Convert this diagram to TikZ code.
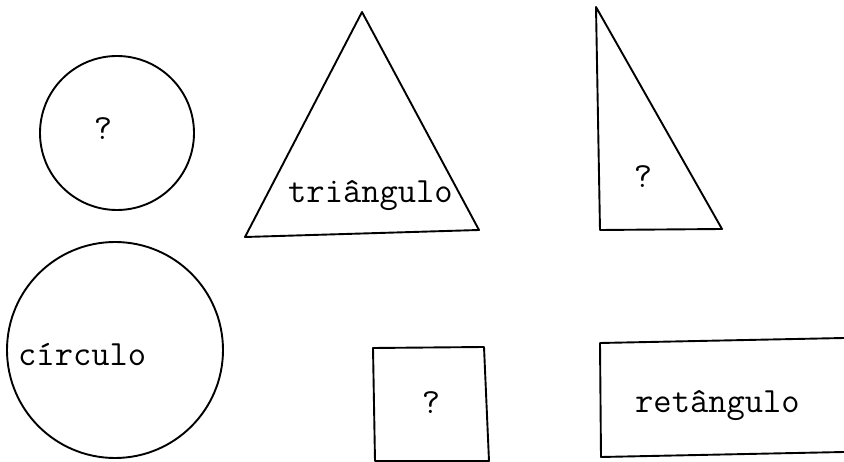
\documentclass[tikz,border=0pt]{standalone}
\usepackage{fontspec}
\begin{document}
\begin{tikzpicture}[x=1pt,y=-1pt,
  shape line/.style={draw=black,line width=1.9pt,line join=round},
  label text/.style={inner sep=0pt,font=\fontsize{35.5}{35.5}\selectfont\ttfamily},
  lbl/.style={label text,anchor=base west}]
\useasboundingbox (0,0) rectangle (844,462);
% small circle
\draw[shape line] (117,133) circle[radius=77];
\node[label text] (q1) at (103,129) {?};
% big triangle
\draw[shape line] (362,12) -- (245,237) -- (479,230) -- cycle;
\node[lbl] (tri) at (288,203) {triângulo};
% right triangle
\draw[shape line] (596,7) -- (600,230) -- (722,229) -- cycle;
\node[label text] (q2) at (643,177) {?};
% big circle
\draw[shape line] (115,350) circle[radius=108];
\node[lbl] (circ) at (18,366) {círculo};
% square
\draw[shape line] (373,348) -- (484,347) -- (489,461) -- (375,461) -- cycle;
\node[label text] (q3) at (431,403) {?};
% rectangle (cut off on the right)
\draw[shape line] (844,338) -- (600,343) -- (601,457) -- (844,452);
\node[lbl] (ret) at (635,413) {retângulo};
\end{tikzpicture}
\end{document}
